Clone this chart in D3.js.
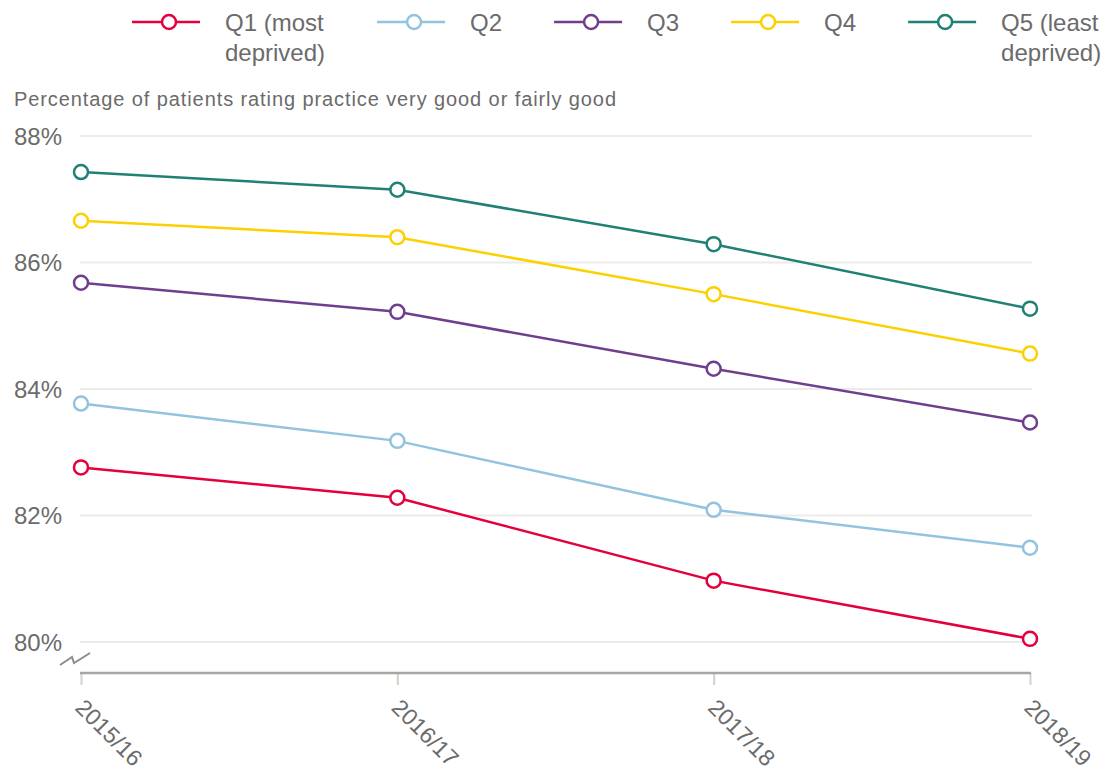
<!DOCTYPE html>
<html>
<head>
<meta charset="utf-8">
<script src="https://cdn.jsdelivr.net/npm/d3@7"></script>
<style>
  body { margin: 0; background: #fff; }
  svg { display: block; }
  text { font-family: "Liberation Sans", Arial, sans-serif; fill: #6b6b6b; }
</style>
</head>
<body>
<div id="chart"></div>
<script>
// Data
var years = ["2015/16", "2016/17", "2017/18", "2018/19"];
var seriesNames = ["Q1 (most deprived)", "Q2", "Q3", "Q4", "Q5 (least deprived)"];
var legendLines = [["Q1 (most", "deprived)"], ["Q2"], ["Q3"], ["Q4"], ["Q5 (least", "deprived)"]];
var q1 = [82.76, 82.28, 80.97, 80.05];
var q2 = [83.77, 83.18, 82.09, 81.49];
var q3 = [85.68, 85.22, 84.32, 83.47];
var q4 = [86.66, 86.40, 85.50, 84.56];
var q5 = [87.43, 87.15, 86.29, 85.27];
var yTicks = [80, 82, 84, 86, 88];
var colors = ["#e4003b", "#92c3df", "#6f3f8e", "#fdd000", "#1f8075"];
var yTitle = "Percentage of patients rating practice very good or fairly good";

var seriesValues = [q1, q2, q3, q4, q5];

// SVG Dimensions
var svgWidth = 1103;
var svgHeight = 771;

var svg = d3.select("#chart")
  .append("svg")
  .attr("width", svgWidth)
  .attr("height", svgHeight);

// Scales
var xScale = d3.scalePoint()
  .domain(years)
  .range([81, 1030]);

var yScale = d3.scaleLinear()
  .domain([80, 88])
  .range([642, 136]);

// Gridlines
svg.append("g").selectAll("line")
  .data(yTicks)
  .enter()
  .append("line")
  .attr("x1", 80)
  .attr("x2", 1032)
  .attr("y1", d => yScale(d))
  .attr("y2", d => yScale(d))
  .attr("stroke", "#edebe7")
  .attr("stroke-width", 2);

// Y tick labels
svg.append("g").selectAll("text")
  .data(yTicks)
  .enter()
  .append("text")
  .attr("x", 62)
  .attr("y", d => yScale(d))
  .attr("dy", "0.36em")
  .attr("text-anchor", "end")
  .style("font-size", "24px")
  .text(d => d + "%");

// Y axis title
svg.append("text")
  .attr("x", 14)
  .attr("y", 106)
  .attr("textLength", 602)
  .attr("lengthAdjust", "spacing")
  .style("font-size", "20px")
  .text(yTitle);

// Axis break symbol
svg.append("path")
  .attr("d", "M60,665 L72,657 L74,663 L90,653")
  .attr("fill", "none")
  .attr("stroke", "#8e8b87")
  .attr("stroke-width", 2);

// X axis
var xAxisY = 673;
var bottomAxis = d3.axisBottom(xScale).tickSize(12).tickFormat("");
var xAxisG = svg.append("g")
  .attr("transform", `translate(0,${xAxisY})`)
  .call(bottomAxis);
xAxisG.select(".domain").remove();
xAxisG.selectAll(".tick line")
  .attr("stroke", "#d3d1cd")
  .attr("stroke-width", 2);
svg.append("line")
  .attr("x1", 80)
  .attr("x2", 1031)
  .attr("y1", xAxisY)
  .attr("y2", xAxisY)
  .attr("stroke", "#a9a6a2")
  .attr("stroke-width", 2.5);

// X labels, rotated
svg.append("g").selectAll("text")
  .data(years)
  .enter()
  .append("text")
  .attr("transform", d => `translate(${xScale(d) - 7},709) rotate(45)`)
  .style("font-size", "23px")
  .text(d => d);

// Lines and markers
var line = d3.line()
  .x((d, i) => xScale(years[i]))
  .y(d => yScale(d));

seriesValues.forEach(function (vals, s) {
  var g = svg.append("g");
  g.append("path")
    .datum(vals)
    .attr("d", line)
    .attr("fill", "none")
    .attr("stroke", colors[s])
    .attr("stroke-width", 2.5);
  g.selectAll("circle")
    .data(vals)
    .enter()
    .append("circle")
    .attr("cx", (d, i) => xScale(years[i]))
    .attr("cy", d => yScale(d))
    .attr("r", 7)
    .attr("fill", "#fff")
    .attr("stroke", colors[s])
    .attr("stroke-width", 2.5);
});

// Legend
var legend = svg.append("g");
var lx = 132;
seriesNames.forEach(function (name, s) {
  var item = legend.append("g").attr("class", "legend-item");
  item.append("line")
    .attr("x1", lx)
    .attr("x2", lx + 68)
    .attr("y1", 22)
    .attr("y2", 22)
    .attr("stroke", colors[s])
    .attr("stroke-width", 2.5);
  item.append("circle")
    .attr("cx", lx + 37)
    .attr("cy", 22)
    .attr("r", 7)
    .attr("fill", "#fff")
    .attr("stroke", colors[s])
    .attr("stroke-width", 2.5);
  var maxW = 0;
  legendLines[s].forEach(function (t, k) {
    var txt = item.append("text")
      .attr("x", lx + 93)
      .attr("y", 22 + k * 30)
      .attr("dy", "0.36em")
      .style("font-size", "24px")
      .text(t);
    maxW = Math.max(maxW, txt.node().getComputedTextLength());
  });
  lx = lx + 93 + maxW + 52;
});
</script>
</body>
</html>
